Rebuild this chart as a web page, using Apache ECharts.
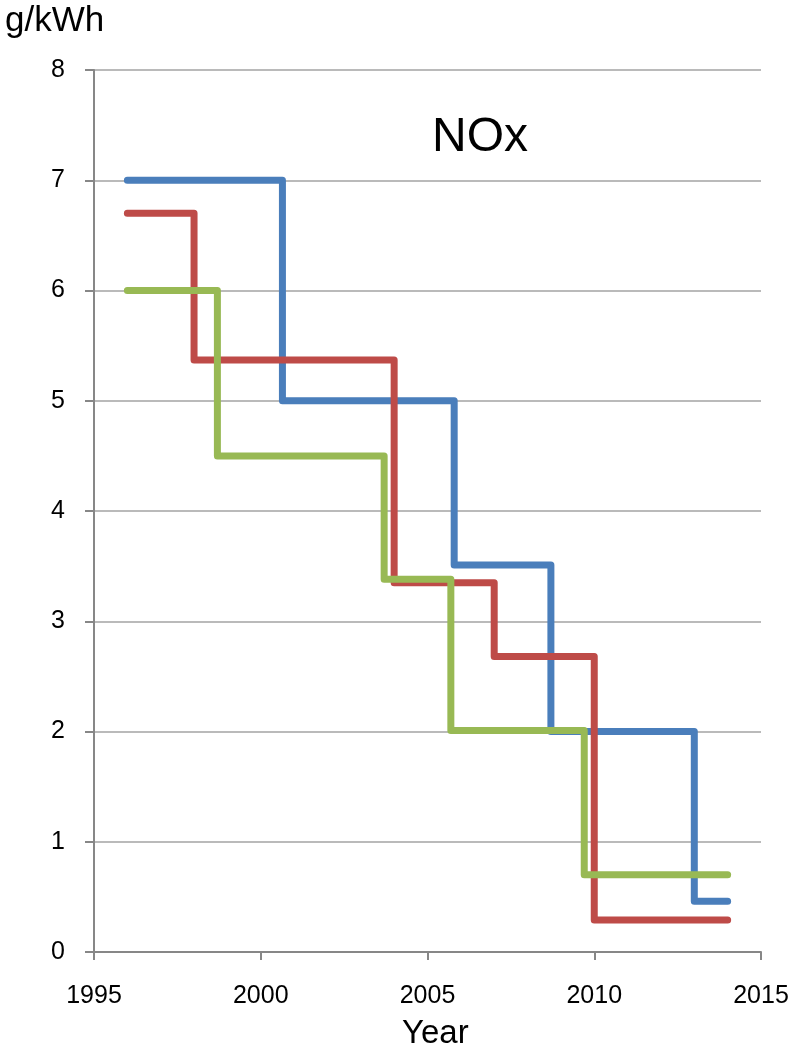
<!DOCTYPE html>
<html>
<head>
<meta charset="utf-8">
<script src="https://cdn.jsdelivr.net/npm/echarts@6/dist/echarts.min.js"></script>
<style>
  html, body { margin: 0; padding: 0; background: #ffffff; }
  #chart { width: 794px; height: 1050px; }
</style>
</head>
<body>
<div id="chart"></div>
<script>
// NOx limit steps: the year each level takes effect, and the level (g/kWh)
const blueYears   = [1996, 2000.65, 2005.8, 2008.7, 2013, 2014];
const blueValues  = [7.0, 5.0, 3.51, 2.0, 0.46, 0.46];
const redYears    = [1996, 1998, 2004, 2007, 2010, 2014];
const redValues   = [6.7, 5.37, 3.35, 2.68, 0.29, 0.29];
const greenYears  = [1996, 1998.7, 2003.7, 2005.7, 2009.7, 2014];
const greenValues = [6.0, 4.5, 3.38, 2.01, 0.7, 0.7];

const xTicks = [1995, 2000, 2005, 2010, 2015];
const yTicks = [0, 1, 2, 3, 4, 5, 6, 7, 8];

const pairs = (xs, ys) => xs.map((x, i) => [x, ys[i]]);

const axisGray = '#878787';
const gridGray = '#a3a3a3';
const font = '"Liberation Sans", Arial, sans-serif';

function stepSeries(name, xs, ys, color) {
  return {
    name: name,
    type: 'line',
    step: 'end',
    data: pairs(xs, ys),
    symbol: 'none',
    lineStyle: { color: color, width: 7, cap: 'round', join: 'round' },
    itemStyle: { color: color },
    animation: false,
    silent: true
  };
}

const chart = echarts.init(document.getElementById('chart'), null, { renderer: 'canvas' });
chart.setOption({
  backgroundColor: '#ffffff',
  animation: false,
  grid: { left: 94, right: 33, top: 70, bottom: 98, containLabel: false },
  xAxis: {
    type: 'value',
    min: xTicks[0],
    max: xTicks[xTicks.length - 1],
    interval: 5,
    axisLine: { show: true, lineStyle: { color: axisGray, width: 2 } },
    axisTick: { show: true, inside: false, length: 8, lineStyle: { color: axisGray, width: 2 } },
    splitLine: { show: false },
    axisLabel: { color: '#000', fontSize: 25, fontFamily: font, margin: 32,
                 formatter: v => String(v) }
  },
  yAxis: {
    type: 'value',
    min: yTicks[0],
    max: yTicks[yTicks.length - 1],
    interval: 1,
    axisLine: { show: true, lineStyle: { color: axisGray, width: 2 } },
    axisTick: { show: true, inside: false, length: 9, lineStyle: { color: axisGray, width: 2 } },
    splitLine: { show: true, lineStyle: { color: gridGray, width: 1.6 } },
    axisLabel: { color: '#000', fontSize: 25, fontFamily: font, margin: 29,
                 formatter: v => String(v) }
  },
  graphic: [
    { type: 'text', left: 5, top: 4,
      style: { text: 'g/kWh', fontSize: 35, fontFamily: font, fill: '#000' } },
    { type: 'text', left: 432, top: 114,
      style: { text: 'NOx', fontSize: 48, fontFamily: font, fill: '#000' } },
    { type: 'text', left: 402, top: 1017,
      style: { text: 'Year', fontSize: 33, fontFamily: font, fill: '#000' } }
  ],
  series: [
    stepSeries('A', blueYears, blueValues, '#4a7ebb'),
    stepSeries('B', redYears, redValues, '#be4b48'),
    stepSeries('C', greenYears, greenValues, '#98b954')
  ]
});
</script>
</body>
</html>
